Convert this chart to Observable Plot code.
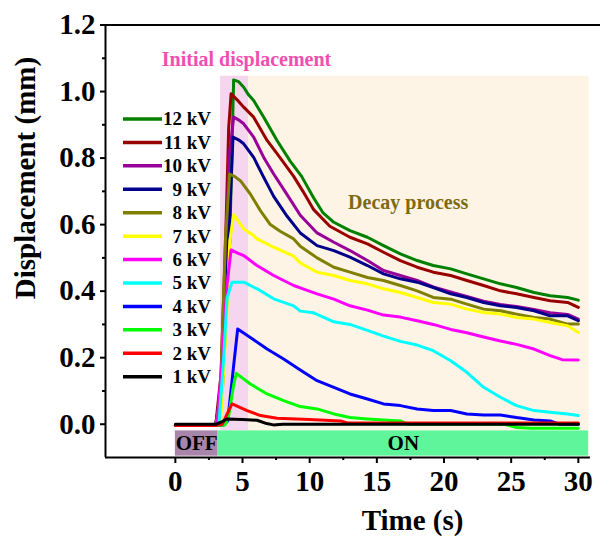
<!DOCTYPE html>
<html><head><meta charset="utf-8">
<script src="https://cdn.jsdelivr.net/npm/d3@7"></script>
<script src="https://cdn.jsdelivr.net/npm/@observablehq/plot@0.6"></script>
<style>
body{margin:0;background:#fff;}
#chart{position:relative;width:600px;height:538px;}
#chart text{font-family:"Liberation Serif","Times New Roman",serif;font-weight:bold;}
</style></head><body><div id="chart"></div>
<script>
// ---------- data ----------
const seriesNames = ["12 kV","11 kV","10 kV","9 kV","8 kV","7 kV","6 kV","5 kV","4 kV","3 kV","2 kV","1 kV"];
const seriesColors = ["#008000","#990000","#990099","#00008b","#808000","#ffff00","#ff00ff","#00ffff","#0000ff","#00ff00","#ff0000","#000000"];

const kv12 = [[0,-0.004],[3.0,-0.004],[3.5,0.1],[4.05,0.55],[4.34,1.035],[4.7,1.03],[5.09,1.013],[5.45,0.99],[5.83,0.973],[6.58,0.923],[7.57,0.853],[8.56,0.79],[9.4,0.745],[10.3,0.68],[11.0,0.635],[11.8,0.607],[13.0,0.582],[14.3,0.562],[15.5,0.537],[16.75,0.512],[18.0,0.492],[19.2,0.477],[20.5,0.467],[21.7,0.452],[22.95,0.437],[24.2,0.422],[25.4,0.411],[26.7,0.396],[27.9,0.386],[29.2,0.381],[30.0,0.373]];
const kv11 = [[0,-0.004],[3.0,-0.004],[3.4,0.15],[3.74,0.55],[3.97,0.89],[4.15,0.993],[4.6,0.975],[5.09,0.953],[5.83,0.923],[6.83,0.853],[7.82,0.80],[8.81,0.745],[9.5,0.70],[10.3,0.645],[11.5,0.595],[13.0,0.562],[14.3,0.542],[15.5,0.517],[16.75,0.492],[18.0,0.472],[19.2,0.457],[20.5,0.447],[21.7,0.432],[22.95,0.417],[24.2,0.401],[25.4,0.392],[26.7,0.381],[27.9,0.371],[29.2,0.366],[30.0,0.351]];
const kv10 = [[0,-0.004],[3.0,-0.004],[3.45,0.12],[3.85,0.55],[3.97,0.79],[4.34,0.923],[4.7,0.915],[5.09,0.903],[5.83,0.863],[6.58,0.802],[7.32,0.752],[8.32,0.69],[9.3,0.628],[10.55,0.575],[11.8,0.547],[13.0,0.522],[14.3,0.492],[15.5,0.462],[16.75,0.447],[18.0,0.432],[19.2,0.413],[20.5,0.398],[21.7,0.384],[22.95,0.37],[24.2,0.36],[25.4,0.354],[26.7,0.345],[27.9,0.335],[29.2,0.33],[30.0,0.316]];
const kv9 = [[0,-0.004],[3.0,-0.004],[3.5,0.12],[3.97,0.55],[4.29,0.863],[4.7,0.855],[5.09,0.843],[5.83,0.802],[6.58,0.742],[7.32,0.685],[8.32,0.625],[9.3,0.575],[10.55,0.537],[11.8,0.522],[13.0,0.502],[14.3,0.477],[15.5,0.452],[16.75,0.437],[18.0,0.427],[19.2,0.411],[20.5,0.392],[21.7,0.381],[22.95,0.366],[24.2,0.356],[25.4,0.351],[26.7,0.341],[27.9,0.326],[29.2,0.326],[30.0,0.311]];
const kv8 = [[0,-0.004],[3.0,-0.004],[3.35,0.08],[3.72,0.55],[4.04,0.752],[4.4,0.745],[4.84,0.732],[5.58,0.692],[6.33,0.642],[7.07,0.60],[7.8,0.58],[8.81,0.557],[9.3,0.535],[10.55,0.50],[11.8,0.472],[13.0,0.457],[14.3,0.441],[15.5,0.432],[16.75,0.417],[18.0,0.401],[19.2,0.381],[20.5,0.376],[21.7,0.361],[22.95,0.346],[24.2,0.341],[25.4,0.331],[26.7,0.321],[27.9,0.316],[29.2,0.301],[30.0,0.301]];
const kv7 = [[0,-0.004],[3.0,-0.004],[3.37,0.01],[3.8,0.3],[4.05,0.55],[4.34,0.63],[4.7,0.61],[5.09,0.587],[5.83,0.567],[6.08,0.557],[7.32,0.532],[8.81,0.505],[9.3,0.485],[10.55,0.457],[11.8,0.447],[13.0,0.432],[14.3,0.422],[15.5,0.407],[16.75,0.396],[18.0,0.381],[19.2,0.366],[20.5,0.361],[21.7,0.346],[22.95,0.336],[24.2,0.331],[25.4,0.321],[26.7,0.316],[27.9,0.306],[29.2,0.296],[30.0,0.276]];
const kv6 = [[0,-0.004],[3.0,-0.004],[3.12,0.005],[3.5,0.2],[3.85,0.42],[4.15,0.524],[4.6,0.515],[5.09,0.507],[6.08,0.477],[7.32,0.447],[8.81,0.417],[9.3,0.41],[10.55,0.392],[11.8,0.376],[13.0,0.356],[14.3,0.343],[15.5,0.328],[16.75,0.322],[18.0,0.311],[19.2,0.30],[20.5,0.285],[21.7,0.275],[22.95,0.262],[24.2,0.25],[25.4,0.24],[26.7,0.226],[27.9,0.206],[28.8,0.194],[30.0,0.193]];
const kv5 = [[0,-0.004],[3.0,-0.004],[3.25,0.005],[3.6,0.2],[3.85,0.38],[4.22,0.427],[5.09,0.427],[6.08,0.407],[7.32,0.377],[8.81,0.356],[9.3,0.34],[10.3,0.335],[11.8,0.308],[13.0,0.30],[14.3,0.282],[15.5,0.265],[16.75,0.249],[18.0,0.238],[19.2,0.221],[20.5,0.191],[21.7,0.156],[22.95,0.111],[24.2,0.081],[25.4,0.056],[26.7,0.041],[27.9,0.036],[29.2,0.031],[30.0,0.026]];
const kv4 = [[0,-0.004],[3.0,-0.004],[3.6,-0.002],[3.9,0.01],[4.35,0.18],[4.64,0.286],[5.58,0.261],[6.83,0.226],[8.06,0.196],[9.3,0.163],[10.55,0.131],[11.8,0.111],[13.0,0.091],[14.3,0.076],[15.5,0.061],[16.75,0.056],[18.0,0.046],[19.2,0.041],[20.5,0.041],[21.7,0.031],[22.95,0.028],[24.2,0.028],[25.4,0.02],[26.7,0.013],[27.9,0.01],[28.6,0.0],[30.0,0.0]];
const kv3 = [[0,-0.004],[3.0,-0.004],[3.7,-0.002],[3.95,0.02],[4.35,0.12],[4.54,0.153],[5.58,0.121],[6.83,0.091],[8.06,0.071],[9.3,0.053],[10.55,0.046],[11.8,0.031],[13.0,0.02],[14.3,0.016],[15.5,0.013],[16.75,0.01],[17.3,0.0],[24.5,0.0],[25.4,-0.01],[26.5,-0.012],[30.0,-0.012]];
const kv2 = [[0,-0.004],[3.0,-0.004],[3.5,0.0],[3.9,0.035],[4.22,0.061],[5.34,0.041],[6.33,0.026],[7.57,0.018],[10.0,0.014],[12.3,0.01],[12.8,0.004],[30.0,0.004]];
const kv1 = [[0,0],[3.0,0],[3.5,0.008],[3.85,0.016],[5.0,0.014],[6.08,0.012],[6.8,0.002],[7.3,-0.002],[8.0,0.0],[30.0,0.0]];
const seriesValues = [kv12,kv11,kv10,kv9,kv8,kv7,kv6,kv5,kv4,kv3,kv2,kv1];

// phases (switch state) and stages (process regions), in seconds
const phaseNames = ["OFF","ON"];
const phaseStart = [0, 3.18];
const phaseEnd = [3.18, 30.77];
const phaseColors = ["#a985ab","#5ff59b"];
const stageNames = ["Initial displacement","Decay process"];
const stageStart = [3.37, 5.45];
const stageEnd = [5.45, 30.8];
const stageColors = ["#f6d6ef","#fdf4e5"];
const stageTextColors = ["#f04fb2","#7d6b10"];

const xTicks = [0,5,10,15,20,25,30];
const xMinor = [2.5,7.5,12.5,17.5,22.5,27.5];
const yTicks = [0,0.2,0.4,0.6,0.8,1.0,1.2];
const yMinor = [0.1,0.3,0.5,0.7,0.9,1.1];

// ---------- build ----------
const rows = [];
seriesValues.forEach((arr,i)=>arr.forEach(([t,v])=>rows.push({t, v, series: seriesNames[i]})));
const phases = phaseNames.map((name,i)=>({name, start: phaseStart[i], end: phaseEnd[i], color: phaseColors[i]}));
const stages = stageNames.map((name,i)=>({name, start: stageStart[i], end: stageEnd[i], color: stageColors[i], tcolor: stageTextColors[i]}));

const xDomain = [-5.2, 31.65];
const yDomain = [-0.1, 1.2];
const xAxisEnd = 30.9;
const bandTop = -0.02, bandBottom = -0.096, stageTop = 1.046;
const font = '"Liberation Serif","Times New Roman",serif';

const marks = [];
stages.forEach(s => marks.push(Plot.rect([s], {x1:"start", x2:"end", y1: bandTop, y2: stageTop, fill: s.color})));
phases.forEach(p => marks.push(Plot.rect([p], {x1:"start", x2:"end", y1: bandBottom, y2: bandTop, fill: p.color})));
marks.push(Plot.text(phases, {x: d=>(d.start+d.end)/2, y: (bandTop+bandBottom)/2, text:"name", fontSize:21, fontFamily: font, fontWeight:"bold", fill:"#000", lineAnchor:"middle"}));
// stage labels
marks.push(Plot.text([stages[0]], {x: 5.3, y: 1.097, text:"name", fontSize:20, fontFamily: font, fontWeight:"bold", fill: stages[0].tcolor, lineAnchor:"middle"}));
marks.push(Plot.text([stages[1]], {x: 17.33, y: 0.667, text:"name", fontSize:20, fontFamily: font, fontWeight:"bold", fill: stages[1].tcolor, lineAnchor:"middle"}));
marks.push(Plot.line(rows, {x:"t", y:"v", z:"series", stroke:"series", strokeWidth:3, strokeLinejoin:"round", strokeLinecap:"round"}));
marks.push(Plot.axisY(yTicks, {tickSize:5, tickPadding:5, fontSize:29, tickFormat: d3.format(".1f"), strokeWidth:2, label:null}));
marks.push(Plot.axisY(yMinor, {tickSize:3, text:null, strokeWidth:2, label:null}));
marks.push(Plot.axisX(xTicks, {tickSize:6, tickPadding:7, fontSize:29, strokeWidth:2, label:null}));
marks.push(Plot.axisX(xMinor, {tickSize:3, text:null, strokeWidth:2, label:null}));
marks.push(Plot.ruleX([xDomain[0]], {y1: yDomain[0], y2: yDomain[1], strokeWidth:2}));
marks.push(Plot.ruleY([yDomain[0]], {x1: xDomain[0], x2: xAxisEnd, strokeWidth:2}));
marks.push(Plot.ruleY([yDomain[1]], {x1: xDomain[0], x2: xDomain[1], strokeWidth:2}));
marks.push(Plot.text(["Time (s)"], {text: d=>d, frameAnchor:"bottom", dx:59.5, dy:63.7, fontSize:29, fontFamily: font, fontWeight:"bold", lineAnchor:"middle", fill:"#000"}));
marks.push(Plot.text(["Displacement (mm)"], {text: d=>d, frameAnchor:"left", rotate:-90, dx:-80, dy:58, fontSize:29, fontFamily: font, fontWeight:"bold", lineAnchor:"middle", fill:"#000"}));

const svg = Plot.plot({
  width:600, height:538,
  marginLeft:105, marginRight:0, marginTop:24.5, marginBottom:81,
  x:{domain:xDomain, label:null},
  y:{domain:yDomain, label:null},
  color:{domain: seriesNames, range: seriesColors},
  style:{fontFamily: font, fontWeight:"bold", background:"#fff", color:"#000", overflow:"visible"},
  marks
});
const chart = document.getElementById("chart");
chart.appendChild(svg);

// legend overlay
const legend = d3.select(chart).append("svg")
  .attr("width",600).attr("height",538)
  .style("position","absolute").style("left","0").style("top","0")
  .style("pointer-events","none");
seriesNames.forEach((name,i)=>{
  const cy = 119 + 23.43*i;
  legend.append("line").attr("x1",123).attr("x2",162).attr("y1",cy).attr("y2",cy)
    .attr("stroke",seriesColors[i]).attr("stroke-width",3.5);
  legend.append("text").attr("x",211).attr("y",cy).attr("dy","0.34em")
    .attr("text-anchor","end")
    .attr("font-size",19).attr("fill","#000").text(name);
});
</script></body></html>
